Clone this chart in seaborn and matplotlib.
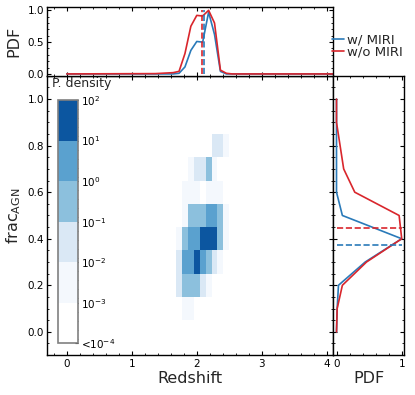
"""Redshift vs frac_AGN posterior density with marginal PDFs."""

import matplotlib

matplotlib.use("Agg")
import matplotlib.pyplot as plt
import numpy as np
import seaborn as sns
from matplotlib.colors import BoundaryNorm, ListedColormap
from matplotlib.ticker import AutoMinorLocator, FixedLocator

sns.set_style("ticks")
plt.rcParams.update({
    "font.family": ["DejaVu Sans"],
    "axes.edgecolor": "black",
    "axes.linewidth": 1.0,
    "xtick.direction": "in",
    "ytick.direction": "in",
    "xtick.color": "black",
    "ytick.color": "black",
    "xtick.major.size": 3.0,
    "ytick.major.size": 3.0,
    "xtick.minor.size": 1.6,
    "ytick.minor.size": 1.6,
    "xtick.major.pad": 2.5,
    "ytick.major.pad": 2.5,
    "xtick.labelsize": 7.5,
    "ytick.labelsize": 7.5,
    "axes.labelsize": 11.5,
})

BLUE = "#2a7ab9"
RED = "#d9262c"

# top marginal: PDF of redshift
z_grid = [0.0, 1.364, 1.455, 1.545, 1.636, 1.727, 1.818, 1.909, 2.0, 2.091,
          2.182, 2.273, 2.364, 2.455, 2.545, 4.5]
pdf_z_miri = [0, 0, 0, 0, 0, 0.01, 0.11, 0.37, 0.51, 0.50,
              0.97, 0.62, 0.04, 0.0, 0.0, 0]
pdf_z_nomiri = [0, 0.005, 0.01, 0.015, 0.02, 0.04, 0.32, 0.75, 0.92, 0.91,
                1.0, 0.80, 0.06, 0.01, 0.0, 0]
z_best_miri = 2.115
z_best_nomiri = 2.075

# right marginal: PDF of frac_AGN
frac_grid = [0.0, 0.1, 0.2, 0.3, 0.4, 0.5, 0.6, 0.7, 0.8, 0.9, 1.0]
pdf_f_miri = [0, 0.01, 0.03, 0.44, 1.0, 0.09, 0.0, 0.0, 0.0, 0.0, 0.0]
pdf_f_nomiri = [0, 0.01, 0.09, 0.46, 1.0, 0.96, 0.28, 0.11, 0.055, 0.0, 0.0]
f_best_miri = 0.375
f_best_nomiri = 0.448

# 2D probability density (cells centred on these values)
hist_z = [1.727, 1.818, 1.909, 2.0, 2.091, 2.182, 2.273, 2.364, 2.455]
hist_f = [0.1, 0.2, 0.3, 0.4, 0.5, 0.6, 0.7, 0.8]
density = [
    [0, 0.003, 0.003, 0, 0, 0, 0, 0, 0],
    [0.03, 0.3, 0.3, 0.3, 0.03, 0.003, 0, 0, 0],
    [0.03, 3, 3, 30, 3, 0.3, 0.03, 0.003, 0],
    [0.003, 0.3, 3, 3, 30, 30, 30, 0.3, 0.003],
    [0, 0.003, 0.3, 0.3, 0.3, 3, 3, 0.3, 0.003],
    [0, 0.003, 0.003, 0.003, 0, 0.003, 0.003, 0.003, 0],
    [0, 0, 0.003, 0.03, 0.03, 0.3, 0.003, 0, 0],
    [0, 0, 0, 0, 0, 0, 0.03, 0.03, 0.003],
]
levels = [1e-4, 1e-3, 1e-2, 1e-1, 1e0, 1e1, 1e2]
level_labels = ["<$10^{-4}$", "$10^{-3}$", "$10^{-2}$", "$10^{-1}$",
                "$10^{0}$", "$10^{1}$", "$10^{2}$"]
level_colors = ["#ffffff", "#f4f8fd", "#dae8f5", "#8cc0dd", "#5aa1cf", "#0c56a0"]

fig = plt.figure(figsize=(4.15, 3.95), dpi=100)
ax = fig.add_axes([0.114, 0.101, 0.689, 0.707])
ax_top = fig.add_axes([0.114, 0.808, 0.689, 0.174], sharex=ax)
ax_right = fig.add_axes([0.803, 0.101, 0.1705, 0.707], sharey=ax)
cax = fig.add_axes([0.1398, 0.1309, 0.0482, 0.616])

# main density map
zc = np.array(hist_z)
fc = np.array(hist_f)
z_edges = np.concatenate([[zc[0] - (zc[1] - zc[0]) / 2], (zc[:-1] + zc[1:]) / 2,
                          [zc[-1] + (zc[-1] - zc[-2]) / 2]])
f_edges = np.concatenate([[fc[0] - 0.05], (fc[:-1] + fc[1:]) / 2, [fc[-1] + 0.05]])
cmap = ListedColormap(level_colors)
norm = BoundaryNorm(levels, cmap.N)
mesh = ax.pcolormesh(z_edges, f_edges, np.ma.masked_equal(np.array(density), 0),
                     cmap=cmap, norm=norm, shading="flat")

ax.set_xlim(-0.3, 4.1)
ax.set_ylim(-0.1, 1.1)
ax.set_xticks([0, 1, 2, 3, 4])
ax.set_yticks([0.0, 0.2, 0.4, 0.6, 0.8, 1.0])
ax.set_yticklabels(["0.0", "0.2", "0.4", "0.6", "0.8", "1.0"])
ax.xaxis.set_minor_locator(AutoMinorLocator())
ax.yaxis.set_minor_locator(AutoMinorLocator())
ax.tick_params(which="both", top=True, right=True)
ax.set_xlabel("Redshift", labelpad=2)
ax.set_ylabel(r"frac$_{\rm AGN}$", labelpad=3)
ax.text(0.016, 0.997, "P. density", transform=ax.transAxes, ha="left", va="top",
        fontsize=9)

cb = fig.colorbar(mesh, cax=cax, ticks=levels)
cb.ax.set_yticklabels(level_labels)
cb.outline.set_edgecolor("#808080")
cb.outline.set_linewidth(1.2)
minor = [m * 10.0 ** e for e in range(-4, 2) for m in (2, 4, 6, 8)]
cb.ax.yaxis.set_minor_locator(FixedLocator(minor))
cb.ax.tick_params(which="major", direction="in", length=2.5, labelsize=7.5, pad=2)
cb.ax.tick_params(which="minor", direction="in", length=1.3, color="#555555")

# top marginal
sns.lineplot(x=z_grid, y=pdf_z_miri, ax=ax_top, color=BLUE, lw=1.2,
             label="w/ MIRI", sort=False)
sns.lineplot(x=z_grid, y=pdf_z_nomiri, ax=ax_top, color=RED, lw=1.2,
             label="w/o MIRI", sort=False)
ax_top.vlines(z_best_nomiri, 0, 1, colors=RED, linestyles="--", lw=1.2)
ax_top.vlines(z_best_miri, 0, 1, colors=BLUE, linestyles="--", lw=1.2)
ax_top.set_ylim(-0.03, 1.05)
ax_top.set_yticks([0.0, 0.5, 1.0])
ax_top.set_yticklabels(["0.0", "0.5", "1.0"])
ax_top.yaxis.set_minor_locator(AutoMinorLocator())
ax_top.tick_params(which="both", top=True, right=True, labelbottom=False)
ax_top.set_ylabel("PDF", labelpad=4)
ax_top.legend(loc="center left", bbox_to_anchor=(0.995, 0.43), frameon=False,
              fontsize=9.5, handlelength=0.95, handletextpad=0.2, borderpad=0,
              borderaxespad=0, labelspacing=-0.1)

# right marginal
sns.lineplot(x=pdf_f_miri, y=frac_grid, ax=ax_right, color=BLUE, lw=1.2,
             orient="y", sort=False)
sns.lineplot(x=pdf_f_nomiri, y=frac_grid, ax=ax_right, color=RED, lw=1.2,
             orient="y", sort=False)
ax_right.hlines(f_best_nomiri, 0, 1, colors=RED, linestyles="--", lw=1.2)
ax_right.hlines(f_best_miri, 0, 1, colors=BLUE, linestyles="--", lw=1.2)
ax_right.set_xlim(-0.05, 1.035)
ax_right.set_xticks([0, 1])
ax_right.xaxis.set_minor_locator(AutoMinorLocator())
ax_right.tick_params(which="both", top=True, right=True, labelleft=False)
ax_right.set_xlabel("PDF", labelpad=2)
ax_right.set_ylabel("")

fig.savefig("out.png", dpi=100)
